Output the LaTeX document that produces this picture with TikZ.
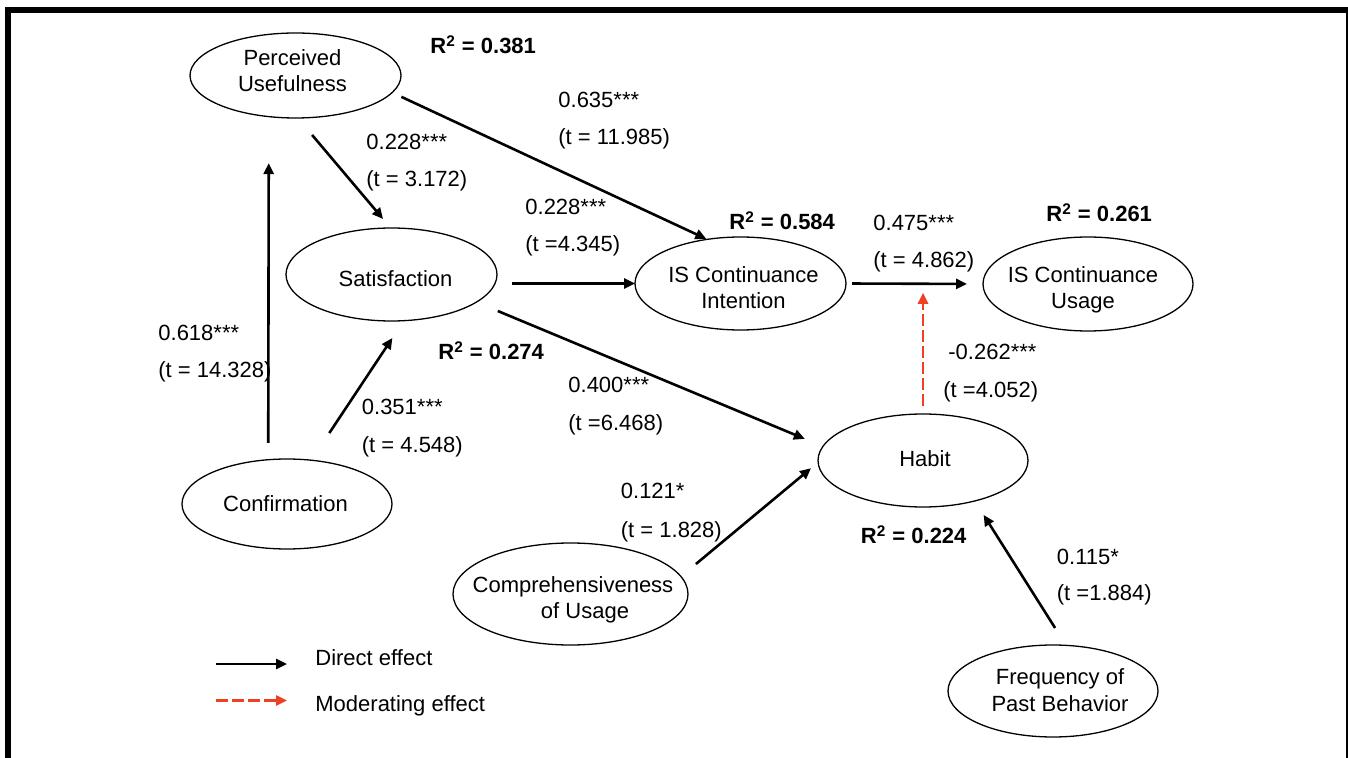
\documentclass[tikz,border=0pt]{standalone}
\usepackage{fontspec}
\setmainfont{Liberation Sans}
\usetikzlibrary{arrows.meta,shapes.geometric,calc}
\definecolor{modred}{RGB}{238,64,36}
\begin{document}
\begin{tikzpicture}[x=0.5pt,y=-0.5pt,
  every node/.style={font=\fontsize{11}{13.2}\selectfont},
  ell/.style={ellipse,draw,line width=0.65pt,inner sep=0pt,outer sep=0pt},
  etxt/.style={align=center,inner sep=0pt},
  lab/.style={anchor=base west,inner sep=0pt},
  rsq/.style={anchor=base west,inner sep=0pt,font=\fontsize{11}{13.2}\selectfont\bfseries},
  arr/.style={line width=1.3pt,-{Triangle[length=5.5pt,width=5pt]}},
  modarr/.style={line width=1.3pt,draw=modred,dash pattern=on 6pt off 2pt,-{Triangle[length=5.5pt,width=5pt,fill=modred]}},
]
\useasboundingbox (0,0) rectangle (1348,758);
\clip (0,0) rectangle (1348,758);
\fill[white] (0,0) rectangle (1348,758);
% frame
\draw[line width=3pt] (8,800) -- (8,10) -- (1349,10) -- (1349,800);

% constructs
\node[ell,minimum width=105.5pt,minimum height=42.5pt,
  label={[etxt,xshift=-1.5pt,yshift=2.5pt]center:Perceived\\Usefulness}] (pu) at (295.5,75.5) {};
\node[ell,minimum width=105.5pt,minimum height=46.5pt,
  label={[etxt,xshift=2pt,yshift=-2.25pt]center:Satisfaction}] (sat) at (391.5,274.5) {};
\node[ell,minimum width=105.5pt,minimum height=46.5pt,
  label={[etxt,xshift=1.5pt,yshift=-2.15pt]center:IS Continuance\\Intention}] (isci) at (740.5,283.5) {};
\node[ell,minimum width=105pt,minimum height=47pt,
  label={[etxt,xshift=-2.5pt,yshift=-3pt]center:IS Continuance\\Usage}] (iscu) at (1088,284) {};
\node[ell,minimum width=105pt,minimum height=46.5pt,
  label={[etxt,xshift=1pt,yshift=0.75pt]center:Habit}] (habit) at (923,460.5) {};
\node[ell,minimum width=105pt,minimum height=45pt,
  label={[etxt,xshift=-0.75pt]center:Confirmation}] (conf) at (287,504) {};
\node[ell,minimum width=117.5pt,minimum height=51pt,
  label={[etxt,xshift=1.25pt,yshift=-2.9pt]center:Comprehensiveness\\\hspace*{12pt}of Usage}] (comp) at (570.5,594) {};
\node[ell,minimum width=105pt,minimum height=46pt,
  label={[etxt,xshift=3.5pt,yshift=0.5pt]center:Frequency of\\Past Behavior}] (freq) at (1053,691) {};

% paths
\draw[arr,shorten <=5.08pt,shorten >=0.5pt] (pu.-10.84) -- (isci.127.3);
\draw[arr,shorten <=11.13pt,shorten >=5.89pt] (pu.-87.2) -- (sat.91.1);
\draw[arr,shorten <=8.37pt,shorten >=23.24pt] (conf.113.2) -- (pu.-123.83);
\draw[arr,shorten <=16.31pt,shorten >=10.38pt] (conf.61.32) -- (sat.-75.47);
\draw[arr,shorten <=8.62pt] (sat.-5.26) -- (isci.180);
\draw[arr,shorten <=11.56pt,shorten >=9.8pt] (sat.-18.99) -- (habit.172.77);
\draw[arr,shorten <=3pt,shorten >=8pt] (isci.0) -- (iscu.180);
\path (isci.0) -- (iscu.180) coordinate[pos=0.555] (mod);
\draw[modarr,shorten <=4pt,shorten >=4.5pt] (habit.90) -- (habit.90 |- mod);
\draw[arr,shorten <=9.77pt,shorten >=4.62pt] (comp.9.71) -- (habit.181.47);
\draw[arr,shorten <=10.29pt,shorten >=8.24pt] (freq.74.03) -- (habit.-38.45);

% labels
\node[rsq] (r-pu) at (430,54) {R\textsuperscript{2} = 0.381};
\node[lab] (b-puis) at (558,108) {0.635***};
\node[lab] (t-puis) at (558,145) {(t = 11.985)};
\node[lab] (b-pusat) at (366,150) {0.228***};
\node[lab] (t-pusat) at (366,187) {(t = 3.172)};
\node[lab] (b-satis) at (525,215) {0.228***};
\node[lab] (t-satis) at (525,252) {(t =4.345)};
\node[rsq] (r-isci) at (729,230) {R\textsuperscript{2} = 0.584};
\node[lab] (b-isiu) at (873,231) {0.475***};
\node[lab] (t-isiu) at (873,268) {(t = 4.862)};
\node[rsq] (r-iscu) at (1046,222) {R\textsuperscript{2} = 0.261};
\node[lab] (b-confpu) at (158,341) {0.618***};
\node[lab] (t-confpu) at (158,378) {(t = 14.328)};
\node[rsq] (r-sat) at (438,360) {R\textsuperscript{2} = 0.274};
\node[lab] (b-confsat) at (361.5,415) {0.351***};
\node[lab] (t-confsat) at (361.5,453) {(t = 4.548)};
\node[lab] (b-sathab) at (568,393) {0.400***};
\node[lab] (t-sathab) at (568,431) {(t =6.468)};
\node[lab] (b-mod) at (948,360) {-0.262***};
\node[lab] (t-mod) at (943,398) {(t =4.052)};
\node[lab] (b-comp) at (620.5,499) {0.121*};
\node[lab] (t-comp) at (620.5,538) {(t = 1.828)};
\node[rsq] (r-hab) at (860.5,544) {R\textsuperscript{2} = 0.224};
\node[lab] (b-freq) at (1056.5,564) {0.115*};
\node[lab] (t-freq) at (1056.5,600) {(t =1.884)};

% legend
\coordinate (lg1a) at (216,664);
\coordinate (lg1b) at (287,664);
\coordinate (lg2a) at (216,700.5);
\coordinate (lg2b) at (287,700.5);
\draw[arr] (lg1a) -- (lg1b);
\draw[modarr] (lg2a) -- (lg2b);
\node[lab] (lg-direct) at (315,665.5) {Direct effect};
\node[lab] (lg-mod) at (315,711.5) {Moderating effect};
\end{tikzpicture}
\end{document}
